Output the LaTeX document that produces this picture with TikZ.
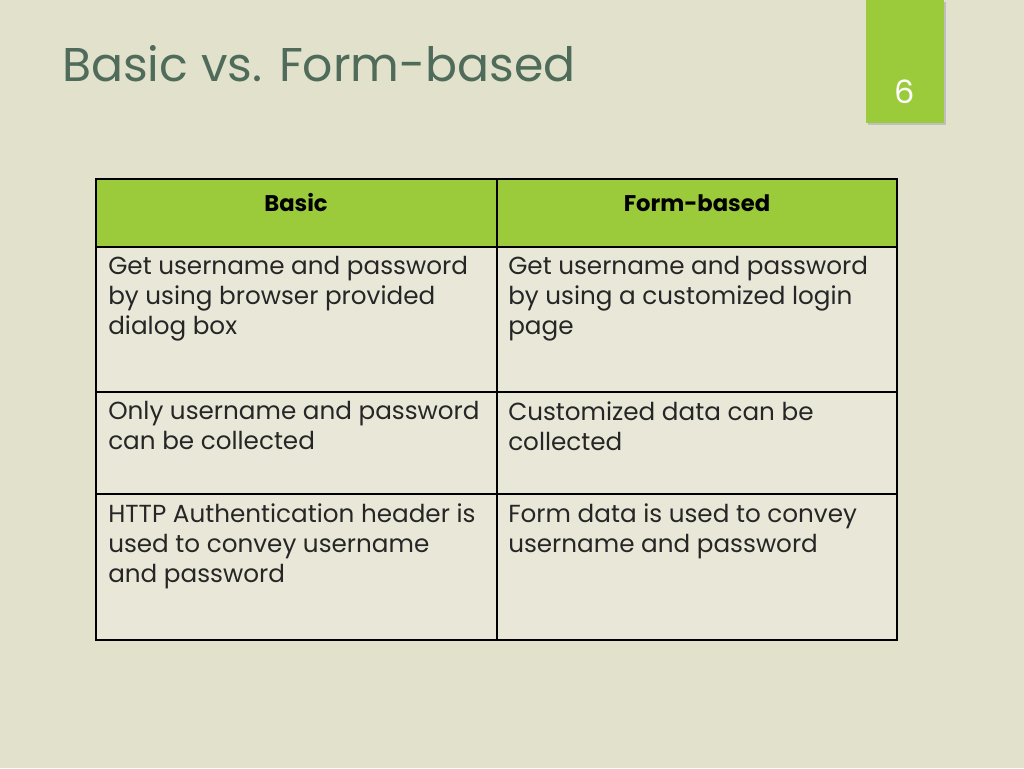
\documentclass[tikz,border=0pt]{standalone}
\usepackage{fontspec}
\setmainfont{Poppins}
\definecolor{bg}{HTML}{E2E1CC}
\definecolor{grn}{HTML}{9BCB3B}
\definecolor{ttl}{HTML}{4F6B5A}
\definecolor{cell}{HTML}{E9E8D8}
\begin{document}
\begin{tikzpicture}[x=0.75pt,y=-0.75pt,
  txt/.style={anchor=north west,align=left,font=\fontsize{18.5}{22.5}\selectfont,inner sep=0pt,text=black!85},
  hd/.style={font=\bfseries\fontsize{17}{22}\selectfont,inner sep=0pt}]
\fill[bg] (0,0) rectangle (1024,768);
\useasboundingbox (0,0) rectangle (1024,768);
\fill[black!25] (868,2) rectangle (946,125);
\fill[grn] (866,0) node (pn) {} rectangle (944,123);
\node[text=white,font=\fontsize{24}{28}\selectfont] (num) at (905,92) {6};
\node[anchor=west,text=ttl,font=\fontsize{35.5}{40}\selectfont,inner sep=0pt] (title) at (62,64) {Basic vs. Form-based};
\fill[cell] (96,247) rectangle (897,640);
\fill[grn] (96,179) rectangle (897,247);
\draw[line width=1pt] (96,179) rectangle (897,640);
\draw[line width=0.8pt] (497,179) -- (497,640);
\draw[line width=0.8pt] (96,247) -- (897,247) (96,392) -- (897,392) (96,494) -- (897,494);
\node[hd] (h1) at (296,203) {Basic};
\node[hd] (h2) at (697,203) {Form-based};
\node[txt] (a1) at (108,256) {Get username and password\\by using browser provided\\dialog box};
\node[txt] (b1) at (508,256) {Get username and password\\by using a customized login\\page};
\node[txt] (a2) at (108,401) {Only username and password\\can be collected};
\node[txt] (b2) at (508,401) {Customized data can be\\collected};
\node[txt] (a3) at (108,503) {HTTP Authentication header is\\used to convey username\\and password};
\node[txt] (b3) at (508,503) {Form data is used to convey\\username and password};
\end{tikzpicture}
\end{document}
